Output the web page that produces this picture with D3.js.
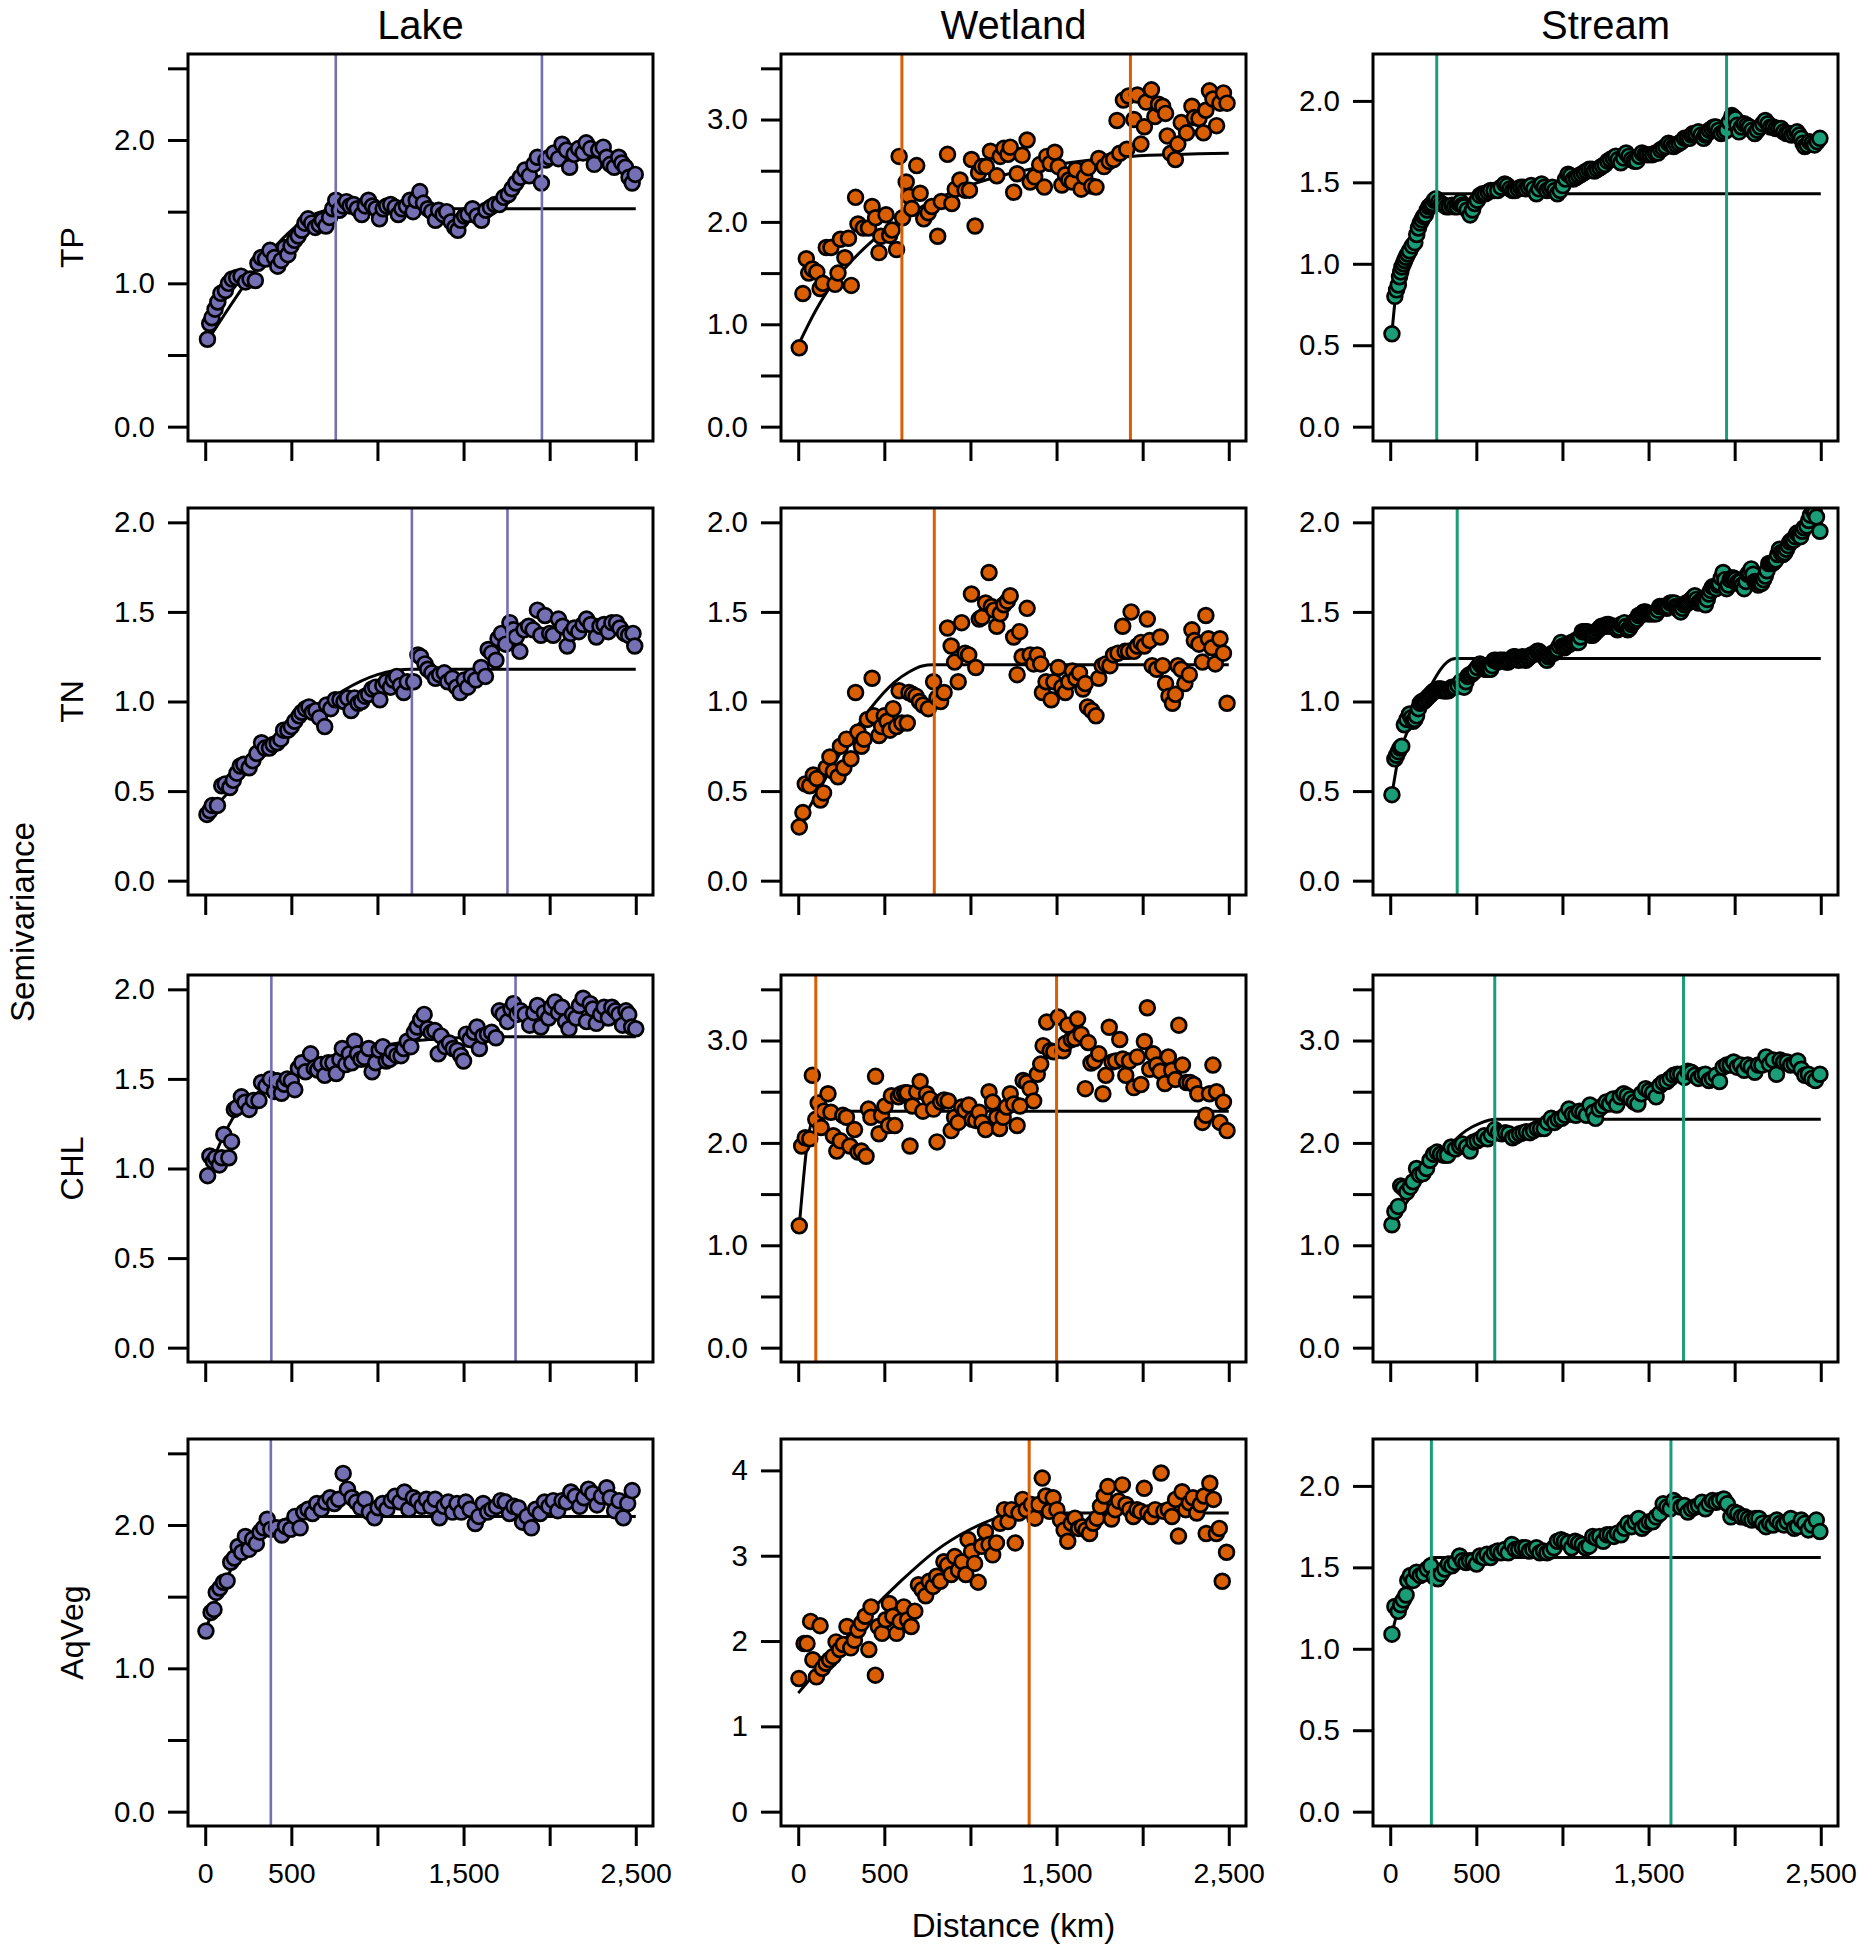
<!DOCTYPE html>
<html>
<head>
<meta charset="utf-8">
<script src="https://cdn.jsdelivr.net/npm/d3@7"></script>
<style>
  body { margin: 0; background: #fff; }
  svg text { font-family: "Liberation Sans", Arial, Helvetica, sans-serif; fill: #000; }
</style>
</head>
<body>
<svg id="chart"></svg>
<script>
// column / row names and colours
var habitats = ["Lake", "Wetland", "Stream"];
var variables = ["TP", "TN", "CHL", "AqVeg"];
var habitatColors = ["#7570b3", "#d95f02", "#1b9e77"];

// x axis (distance, km)
var xTicks = [0, 500, 1000, 1500, 2000, 2500];
var xTickLabels = ["0", "500", "", "1,500", "", "2,500"];

// y axis per panel [row][col]
var yMax      = [[2.5, 3.5, 2.2], [2.0, 2.0, 2.0], [2.0, 3.5, 3.5], [2.5, 4.2, 2.2]];
var yTickStep = [[0.5, 0.5, 0.5], [0.5, 0.5, 0.5], [0.5, 0.5, 0.5], [0.5, 1.0, 0.5]];
var yLabelStep= [[1.0, 1.0, 0.5], [0.5, 0.5, 0.5], [0.5, 1.0, 1.0], [1.0, 1.0, 0.5]];

// empirical semivariance, [distance km, semivariance]
var lakeTP = [[13,0.61],[26,0.72],[39,0.76],[57,0.82],[73,0.87],[91,0.93],[117,0.95],[135,1.0],[156,1.03],[182,1.04],[208,1.05],[234,1.01],[260,1.03],[291,1.02],[306,1.14],[325,1.18],[350,1.17],[376,1.23],[402,1.18],[421,1.12],[441,1.16],[462,1.25],[480,1.2],[498,1.26],[519,1.3],[540,1.33],[561,1.37],[579,1.42],[597,1.45],[618,1.42],[639,1.39],[662,1.41],[680,1.44],[701,1.4],[722,1.46],[740,1.52],[758,1.58],[779,1.51],[800,1.54],[820,1.57],[841,1.54],[862,1.55],[883,1.52],[909,1.48],[929,1.54],[948,1.58],[971,1.54],[992,1.52],[1012,1.45],[1033,1.52],[1054,1.54],[1077,1.55],[1103,1.53],[1121,1.48],[1142,1.52],[1168,1.54],[1189,1.58],[1207,1.5],[1225,1.58],[1246,1.64],[1267,1.56],[1293,1.52],[1314,1.5],[1337,1.44],[1355,1.51],[1381,1.48],[1402,1.5],[1428,1.43],[1449,1.39],[1467,1.37],[1485,1.44],[1506,1.47],[1526,1.48],[1552,1.52],[1578,1.47],[1604,1.44],[1630,1.51],[1656,1.53],[1682,1.55],[1708,1.55],[1734,1.6],[1760,1.62],[1781,1.66],[1804,1.7],[1830,1.74],[1856,1.79],[1882,1.75],[1908,1.83],[1929,1.88],[1952,1.7],[1978,1.86],[1999,1.88],[2025,1.91],[2051,1.87],[2072,1.97],[2098,1.93],[2116,1.81],[2142,1.9],[2168,1.94],[2194,1.91],[2212,1.98],[2238,1.94],[2259,1.83],[2285,1.93],[2311,1.95],[2331,1.88],[2352,1.83],[2375,1.81],[2401,1.88],[2419,1.84],[2440,1.81],[2461,1.74],[2479,1.7],[2497,1.76]];
var wetlandTP = [[6,0.77],[27,1.3],[47,1.64],[61,1.5],[82,1.54],[108,1.51],[127,1.35],[143,1.4],[163,1.75],[190,1.75],[214,1.39],[231,1.5],[245,1.83],[271,1.65],[292,1.84],[308,1.38],[333,2.24],[347,1.98],[378,1.94],[408,1.94],[429,2.15],[449,2.04],[469,1.7],[480,1.86],[510,2.07],[531,1.87],[545,1.92],[571,1.73],[586,2.64],[606,2.04],[627,2.39],[643,2.25],[659,2.13],[688,2.55],[708,2.28],[729,2.03],[755,2.09],[776,2.15],[810,1.86],[831,2.2],[867,2.66],[892,2.18],[912,2.32],[939,2.41],[969,2.31],[994,2.31],[1006,2.61],[1027,1.96],[1047,2.48],[1067,2.54],[1092,2.54],[1116,2.69],[1153,2.45],[1173,2.64],[1194,2.72],[1218,2.66],[1231,2.73],[1251,2.29],[1271,2.47],[1300,2.65],[1329,2.8],[1347,2.39],[1373,2.44],[1402,2.56],[1429,2.34],[1443,2.64],[1463,2.57],[1490,2.68],[1510,2.54],[1531,2.36],[1551,2.46],[1571,2.41],[1592,2.39],[1612,2.51],[1643,2.32],[1663,2.44],[1684,2.53],[1704,2.35],[1729,2.34],[1745,2.62],[1776,2.54],[1806,2.59],[1831,2.61],[1851,2.99],[1867,2.67],[1888,3.19],[1908,2.71],[1918,3.23],[1949,3.0],[1969,3.24],[1990,2.76],[2010,2.93],[2020,3.17],[2051,3.29],[2071,3.03],[2092,3.15],[2116,3.13],[2133,3.06],[2143,2.84],[2163,2.67],[2190,2.61],[2204,2.76],[2224,2.97],[2255,2.87],[2286,3.13],[2300,3.02],[2327,3.01],[2353,2.87],[2367,3.09],[2388,3.28],[2408,3.2],[2429,2.94],[2449,3.16],[2469,3.26],[2490,3.16]];
var streamTP = [[10,0.57],[27,0.8],[37,0.84],[47,0.87],[54,0.92],[61,0.95],[68,0.98],[76,1.0],[84,1.02],[92,1.04],[102,1.06],[112,1.08],[128,1.11],[143,1.13],[154,1.18],[164,1.22],[174,1.25],[184,1.27],[194,1.29],[204,1.3],[215,1.33],[225,1.35],[235,1.36],[245,1.37],[256,1.39],[266,1.4],[282,1.38],[297,1.37],[312,1.36],[327,1.35],[342,1.35],[358,1.36],[373,1.35],[389,1.35],[399,1.37],[409,1.38],[419,1.36],[429,1.35],[447,1.33],[464,1.3],[478,1.33],[491,1.37],[506,1.39],[521,1.42],[537,1.43],[552,1.43],[568,1.44],[583,1.45],[603,1.45],[624,1.45],[644,1.47],[665,1.49],[680,1.48],[695,1.46],[711,1.45],[726,1.45],[742,1.46],[757,1.47],[772,1.47],[787,1.46],[803,1.47],[818,1.48],[834,1.46],[849,1.43],[864,1.46],[879,1.49],[895,1.47],[910,1.45],[926,1.46],[941,1.47],[956,1.45],[971,1.43],[987,1.45],[1002,1.48],[1018,1.52],[1033,1.55],[1048,1.54],[1063,1.52],[1079,1.53],[1094,1.54],[1110,1.55],[1125,1.56],[1140,1.57],[1155,1.58],[1171,1.58],[1186,1.57],[1202,1.58],[1217,1.59],[1232,1.6],[1247,1.61],[1263,1.63],[1278,1.64],[1294,1.65],[1309,1.66],[1324,1.64],[1339,1.62],[1355,1.65],[1370,1.68],[1386,1.66],[1401,1.64],[1416,1.63],[1431,1.63],[1447,1.66],[1462,1.68],[1478,1.67],[1493,1.67],[1508,1.67],[1524,1.67],[1539,1.68],[1554,1.68],[1570,1.7],[1585,1.71],[1600,1.72],[1616,1.74],[1631,1.73],[1646,1.72],[1662,1.73],[1677,1.74],[1692,1.75],[1708,1.77],[1723,1.77],[1738,1.77],[1749,1.79],[1759,1.8],[1774,1.8],[1789,1.81],[1805,1.79],[1820,1.77],[1830,1.79],[1840,1.8],[1853,1.82],[1867,1.83],[1880,1.84],[1892,1.84],[1907,1.82],[1922,1.8],[1938,1.81],[1953,1.82],[1968,1.87],[1984,1.91],[1994,1.9],[2004,1.89],[2014,1.85],[2025,1.81],[2040,1.84],[2055,1.86],[2071,1.85],[2086,1.84],[2101,1.82],[2117,1.8],[2132,1.82],[2147,1.84],[2163,1.86],[2178,1.88],[2193,1.86],[2209,1.84],[2224,1.84],[2239,1.83],[2255,1.83],[2270,1.83],[2285,1.81],[2301,1.8],[2316,1.8],[2331,1.79],[2347,1.8],[2362,1.81],[2375,1.79],[2387,1.77],[2397,1.74],[2407,1.72],[2421,1.73],[2434,1.75],[2449,1.74],[2464,1.73],[2480,1.75],[2495,1.77]];

var lakeTN = [[10,0.37],[27,0.39],[41,0.42],[71,0.42],[96,0.53],[116,0.54],[143,0.52],[163,0.56],[184,0.6],[204,0.64],[224,0.65],[255,0.63],[276,0.67],[300,0.71],[327,0.77],[347,0.74],[373,0.74],[394,0.76],[418,0.77],[439,0.79],[455,0.84],[480,0.84],[500,0.86],[520,0.89],[545,0.92],[561,0.94],[582,0.96],[602,0.97],[622,0.94],[643,0.95],[663,0.91],[694,0.86],[704,0.98],[729,0.96],[755,1.01],[782,1.01],[806,1.0],[827,1.02],[847,0.95],[867,1.02],[888,0.99],[908,1.0],[929,1.03],[949,1.04],[969,1.07],[990,1.08],[1014,1.01],[1031,1.09],[1051,1.11],[1076,1.08],[1092,1.12],[1112,1.14],[1133,1.09],[1153,1.05],[1173,1.11],[1210,1.11],[1235,1.26],[1251,1.25],[1276,1.21],[1292,1.18],[1316,1.16],[1337,1.13],[1361,1.15],[1388,1.16],[1408,1.11],[1435,1.13],[1459,1.08],[1480,1.05],[1504,1.12],[1524,1.08],[1545,1.14],[1571,1.12],[1602,1.19],[1627,1.14],[1643,1.29],[1663,1.27],[1688,1.23],[1700,1.35],[1720,1.38],[1745,1.32],[1769,1.44],[1790,1.4],[1806,1.36],[1827,1.28],[1851,1.4],[1878,1.42],[1904,1.4],[1929,1.51],[1949,1.37],[1973,1.48],[2000,1.38],[2020,1.37],[2051,1.46],[2076,1.42],[2102,1.31],[2122,1.38],[2143,1.41],[2169,1.39],[2194,1.43],[2214,1.46],[2239,1.43],[2271,1.36],[2292,1.42],[2316,1.43],[2341,1.39],[2361,1.44],[2388,1.44],[2408,1.41],[2435,1.38],[2459,1.37],[2484,1.38],[2494,1.31]];
var wetlandTN = [[6,0.3],[27,0.38],[41,0.54],[67,0.53],[88,0.59],[108,0.57],[129,0.45],[147,0.49],[163,0.63],[184,0.69],[204,0.61],[231,0.58],[245,0.75],[265,0.63],[280,0.79],[306,0.68],[333,1.05],[347,0.83],[367,0.75],[382,0.79],[402,0.9],[429,1.13],[439,0.92],[469,0.81],[484,0.86],[500,0.92],[516,0.89],[533,0.84],[551,0.96],[571,0.86],[586,1.06],[602,0.88],[633,0.88],[643,1.05],[663,1.04],[684,1.03],[704,1.0],[724,0.98],[755,0.96],[786,1.11],[806,1.02],[827,1.0],[847,1.05],[867,1.41],[888,1.31],[908,1.22],[929,1.11],[949,1.44],[969,1.27],[990,1.26],[1006,1.6],[1031,1.19],[1051,1.46],[1067,1.47],[1088,1.55],[1108,1.72],[1122,1.53],[1137,1.51],[1153,1.42],[1173,1.49],[1194,1.54],[1214,1.56],[1231,1.59],[1251,1.36],[1271,1.15],[1286,1.39],[1300,1.25],[1329,1.52],[1347,1.26],[1367,1.21],[1388,1.26],[1408,1.21],[1418,1.05],[1439,1.11],[1469,1.01],[1484,1.11],[1510,1.19],[1531,1.08],[1551,1.05],[1571,1.11],[1592,1.17],[1612,1.13],[1633,1.16],[1653,1.07],[1667,1.1],[1680,0.97],[1704,0.95],[1729,0.92],[1745,1.13],[1765,1.2],[1786,1.21],[1810,1.2],[1831,1.26],[1857,1.27],[1884,1.42],[1898,1.28],[1918,1.28],[1933,1.5],[1949,1.28],[1969,1.31],[1990,1.33],[2010,1.31],[2027,1.46],[2041,1.34],[2055,1.2],[2082,1.18],[2102,1.36],[2116,1.2],[2133,1.1],[2153,1.03],[2173,0.99],[2190,1.04],[2204,1.2],[2224,1.18],[2245,1.1],[2271,1.15],[2286,1.4],[2300,1.34],[2327,1.32],[2347,1.22],[2367,1.48],[2382,1.35],[2402,1.3],[2422,1.21],[2449,1.35],[2469,1.27],[2490,0.99]];
var streamTN = [[10,0.48],[27,0.68],[37,0.7],[47,0.72],[57,0.74],[67,0.75],[82,0.87],[97,0.9],[112,0.93],[123,0.91],[133,0.89],[143,0.9],[153,0.92],[164,0.96],[174,0.99],[184,1.0],[194,1.0],[204,1.01],[215,1.02],[225,1.03],[235,1.04],[245,1.05],[256,1.06],[266,1.06],[276,1.07],[287,1.07],[297,1.07],[307,1.06],[317,1.06],[327,1.06],[337,1.06],[348,1.07],[358,1.08],[368,1.08],[378,1.08],[394,1.09],[409,1.11],[419,1.09],[429,1.08],[440,1.11],[450,1.14],[460,1.15],[470,1.15],[481,1.16],[491,1.17],[506,1.19],[521,1.21],[532,1.2],[542,1.19],[552,1.18],[562,1.18],[572,1.18],[583,1.18],[593,1.2],[603,1.23],[614,1.23],[624,1.22],[634,1.23],[644,1.23],[654,1.23],[665,1.23],[675,1.22],[685,1.22],[695,1.23],[706,1.24],[716,1.25],[726,1.25],[736,1.24],[746,1.23],[757,1.24],[767,1.25],[777,1.24],[787,1.23],[798,1.24],[808,1.25],[818,1.26],[828,1.26],[840,1.27],[853,1.28],[863,1.28],[873,1.27],[884,1.26],[894,1.25],[902,1.24],[910,1.23],[920,1.25],[930,1.26],[941,1.27],[951,1.27],[961,1.28],[971,1.29],[982,1.31],[992,1.33],[1002,1.31],[1012,1.3],[1022,1.31],[1033,1.32],[1043,1.32],[1053,1.33],[1064,1.33],[1074,1.34],[1084,1.33],[1094,1.33],[1105,1.36],[1115,1.39],[1125,1.39],[1135,1.39],[1145,1.39],[1155,1.38],[1166,1.37],[1176,1.37],[1186,1.38],[1196,1.39],[1207,1.4],[1217,1.41],[1227,1.42],[1237,1.42],[1248,1.42],[1258,1.43],[1268,1.43],[1278,1.42],[1289,1.42],[1299,1.42],[1309,1.41],[1319,1.4],[1330,1.41],[1340,1.43],[1350,1.43],[1360,1.44],[1370,1.42],[1380,1.4],[1391,1.41],[1401,1.43],[1411,1.44],[1421,1.45],[1432,1.46],[1442,1.48],[1452,1.48],[1462,1.49],[1472,1.5],[1483,1.5],[1493,1.49],[1503,1.49],[1514,1.49],[1524,1.49],[1534,1.49],[1544,1.49],[1555,1.51],[1565,1.53],[1575,1.53],[1585,1.53],[1596,1.53],[1606,1.52],[1616,1.53],[1626,1.55],[1638,1.55],[1650,1.55],[1658,1.53],[1667,1.52],[1677,1.51],[1687,1.5],[1697,1.52],[1708,1.54],[1718,1.55],[1728,1.55],[1738,1.56],[1749,1.57],[1759,1.58],[1769,1.59],[1779,1.57],[1790,1.55],[1800,1.56],[1810,1.56],[1820,1.55],[1830,1.54],[1841,1.57],[1851,1.6],[1861,1.62],[1871,1.64],[1882,1.64],[1892,1.63],[1902,1.65],[1912,1.66],[1922,1.69],[1933,1.72],[1943,1.68],[1953,1.63],[1963,1.65],[1973,1.68],[1984,1.69],[1994,1.69],[2004,1.68],[2014,1.66],[2024,1.67],[2035,1.67],[2045,1.65],[2055,1.63],[2066,1.67],[2076,1.71],[2086,1.72],[2096,1.74],[2107,1.71],[2117,1.67],[2127,1.66],[2137,1.65],[2147,1.66],[2157,1.66],[2168,1.68],[2178,1.7],[2188,1.73],[2198,1.77],[2209,1.77],[2219,1.77],[2229,1.78],[2239,1.79],[2250,1.82],[2260,1.85],[2270,1.83],[2280,1.82],[2291,1.83],[2301,1.85],[2311,1.87],[2321,1.89],[2332,1.9],[2342,1.9],[2352,1.92],[2362,1.94],[2373,1.93],[2383,1.92],[2393,1.95],[2403,1.97],[2419,1.98],[2430,2.01],[2440,2.04],[2454,2.07],[2465,2.05],[2475,2.03],[2495,1.95]];

var lakeCHL = [[14,0.96],[27,1.07],[47,1.04],[61,1.06],[82,1.02],[96,1.06],[108,1.19],[137,1.06],[153,1.15],[169,1.33],[184,1.34],[210,1.4],[231,1.37],[255,1.33],[280,1.38],[312,1.38],[327,1.48],[353,1.46],[378,1.5],[402,1.43],[418,1.49],[443,1.42],[459,1.47],[476,1.5],[500,1.49],[520,1.44],[541,1.56],[561,1.59],[582,1.54],[612,1.64],[633,1.56],[653,1.55],[673,1.58],[694,1.52],[714,1.59],[741,1.59],[761,1.53],[782,1.61],[796,1.67],[816,1.58],[837,1.64],[851,1.59],[867,1.71],[884,1.64],[904,1.61],[925,1.62],[949,1.67],[969,1.54],[990,1.59],[1010,1.66],[1031,1.68],[1051,1.6],[1071,1.61],[1088,1.65],[1112,1.63],[1137,1.63],[1153,1.67],[1173,1.71],[1194,1.68],[1214,1.76],[1231,1.79],[1251,1.83],[1271,1.86],[1292,1.78],[1312,1.76],[1333,1.77],[1353,1.64],[1369,1.74],[1394,1.68],[1418,1.7],[1439,1.67],[1463,1.66],[1484,1.63],[1500,1.6],[1516,1.75],[1537,1.72],[1561,1.76],[1578,1.79],[1592,1.67],[1612,1.74],[1639,1.75],[1663,1.76],[1688,1.73],[1708,1.88],[1729,1.86],[1755,1.82],[1776,1.89],[1790,1.92],[1810,1.86],[1831,1.88],[1857,1.86],[1884,1.8],[1908,1.87],[1929,1.91],[1949,1.79],[1969,1.87],[1994,1.84],[2010,1.9],[2031,1.93],[2051,1.87],[2071,1.9],[2092,1.82],[2112,1.78],[2133,1.86],[2153,1.84],[2173,1.91],[2194,1.95],[2214,1.82],[2235,1.92],[2251,1.89],[2271,1.81],[2296,1.86],[2316,1.9],[2341,1.84],[2361,1.9],[2382,1.88],[2402,1.86],[2423,1.8],[2443,1.88],[2459,1.86],[2476,1.79],[2500,1.78]];
var wetlandCHL = [[6,1.19],[20,1.97],[41,2.05],[67,2.04],[82,2.66],[102,2.23],[116,2.39],[133,2.15],[149,2.31],[173,2.48],[190,2.3],[204,2.07],[224,1.92],[245,2.02],[259,2.27],[280,2.25],[300,1.97],[327,2.13],[347,1.91],[367,1.92],[394,1.87],[408,2.33],[422,2.25],[449,2.65],[469,2.09],[484,2.27],[504,2.36],[525,2.17],[541,2.46],[561,2.17],[582,2.45],[598,2.48],[618,2.49],[633,2.49],[649,1.97],[663,2.36],[688,2.5],[708,2.6],[724,2.31],[745,2.48],[765,2.43],[786,2.33],[806,2.01],[827,2.4],[847,2.42],[871,2.41],[888,2.12],[908,2.25],[929,2.2],[949,2.35],[969,2.32],[990,2.37],[1010,2.23],[1031,2.22],[1051,2.3],[1067,2.2],[1088,2.13],[1108,2.5],[1129,2.4],[1153,2.25],[1169,2.14],[1190,2.25],[1210,2.35],[1231,2.48],[1251,2.38],[1271,2.17],[1288,2.36],[1306,2.61],[1327,2.59],[1347,2.53],[1367,2.41],[1388,2.67],[1408,2.77],[1422,2.95],[1443,3.18],[1463,2.9],[1484,2.89],[1510,3.23],[1537,2.9],[1551,2.97],[1565,3.15],[1586,3.01],[1606,3.02],[1622,3.21],[1643,3.06],[1667,2.53],[1684,2.98],[1700,2.78],[1720,2.8],[1745,2.87],[1769,2.48],[1786,2.66],[1806,3.13],[1822,2.79],[1843,2.8],[1867,3.01],[1884,2.82],[1902,2.66],[1924,2.8],[1949,2.54],[1969,2.84],[1990,2.57],[2010,2.99],[2027,3.32],[2041,2.72],[2061,2.87],[2082,2.76],[2102,2.7],[2129,2.58],[2149,2.84],[2169,2.71],[2190,2.62],[2210,3.15],[2231,2.76],[2255,2.59],[2276,2.59],[2296,2.57],[2320,2.48],[2347,2.2],[2367,2.27],[2388,2.48],[2408,2.76],[2429,2.5],[2449,2.2],[2469,2.4],[2490,2.12]];
var streamCHL = [[10,1.2],[27,1.33],[47,1.38],[61,1.58],[76,1.56],[96,1.52],[117,1.57],[133,1.62],[153,1.75],[170,1.69],[190,1.7],[211,1.75],[231,1.83],[252,1.89],[272,1.91],[292,1.89],[313,1.88],[333,1.88],[354,1.96],[378,1.94],[403,1.97],[419,1.99],[444,1.96],[464,1.92],[485,2.01],[505,2.02],[526,2.04],[546,2.07],[566,2.04],[587,2.08],[607,2.13],[628,2.1],[648,2.09],[669,2.1],[689,2.09],[710,2.05],[730,2.07],[751,2.09],[771,2.1],[791,2.11],[812,2.1],[832,2.12],[853,2.14],[873,2.14],[894,2.14],[914,2.2],[935,2.24],[955,2.2],[975,2.23],[996,2.24],[1016,2.27],[1037,2.33],[1057,2.28],[1078,2.27],[1098,2.31],[1119,2.3],[1139,2.27],[1160,2.37],[1180,2.3],[1192,2.24],[1213,2.33],[1233,2.36],[1254,2.4],[1274,2.38],[1294,2.43],[1315,2.37],[1335,2.45],[1356,2.48],[1376,2.46],[1397,2.43],[1417,2.4],[1438,2.38],[1458,2.48],[1483,2.53],[1503,2.51],[1524,2.49],[1544,2.45],[1565,2.56],[1585,2.59],[1606,2.6],[1626,2.63],[1646,2.66],[1667,2.67],[1687,2.67],[1708,2.64],[1728,2.7],[1748,2.69],[1769,2.66],[1789,2.63],[1810,2.66],[1830,2.67],[1851,2.61],[1871,2.63],[1892,2.66],[1912,2.6],[1933,2.74],[1953,2.76],[1974,2.76],[1994,2.79],[2014,2.74],[2035,2.76],[2055,2.71],[2076,2.76],[2096,2.74],[2117,2.69],[2137,2.76],[2158,2.76],[2182,2.84],[2202,2.77],[2223,2.81],[2243,2.67],[2264,2.81],[2284,2.79],[2305,2.79],[2325,2.76],[2346,2.77],[2366,2.8],[2387,2.72],[2407,2.66],[2428,2.67],[2448,2.63],[2469,2.61],[2495,2.67]];

var lakeAqVeg = [[4,1.26],[34,1.39],[51,1.41],[64,1.53],[85,1.56],[106,1.6],[127,1.61],[148,1.74],[169,1.77],[191,1.85],[212,1.81],[233,1.92],[254,1.83],[275,1.9],[297,1.87],[318,1.95],[339,1.98],[360,2.04],[381,1.97],[415,1.98],[445,1.93],[466,1.99],[496,1.97],[521,2.06],[551,1.98],[572,2.09],[597,2.11],[623,2.08],[648,2.15],[674,2.11],[699,2.16],[725,2.19],[750,2.15],[775,2.18],[801,2.36],[826,2.25],[852,2.19],[877,2.16],[903,2.12],[928,2.18],[953,2.09],[983,2.05],[1004,2.12],[1030,2.15],[1055,2.11],[1081,2.17],[1102,2.2],[1131,2.16],[1157,2.23],[1182,2.11],[1208,2.19],[1233,2.17],[1258,2.13],[1284,2.18],[1309,2.13],[1335,2.18],[1360,2.05],[1386,2.13],[1411,2.16],[1436,2.09],[1462,2.15],[1487,2.09],[1513,2.16],[1538,2.11],[1568,2.01],[1589,2.06],[1614,2.15],[1640,2.09],[1665,2.11],[1691,2.13],[1716,2.17],[1742,2.16],[1767,2.08],[1792,2.13],[1818,2.12],[1843,2.02],[1869,2.06],[1894,1.98],[1919,2.11],[1945,2.08],[1970,2.16],[1996,2.13],[2021,2.17],[2047,2.1],[2072,2.17],[2097,2.16],[2123,2.23],[2148,2.2],[2174,2.13],[2199,2.19],[2225,2.25],[2250,2.22],[2275,2.14],[2301,2.2],[2331,2.26],[2352,2.19],[2377,2.1],[2403,2.17],[2428,2.05],[2453,2.15],[2479,2.24]];
var wetlandAqVeg = [[4,1.56],[34,1.97],[51,1.97],[72,2.23],[85,1.78],[106,1.58],[127,2.18],[140,1.68],[161,1.74],[182,1.78],[203,1.82],[220,1.99],[241,1.9],[262,1.96],[283,2.17],[305,1.92],[326,2.01],[347,2.13],[368,2.21],[389,2.29],[410,1.9],[423,2.4],[448,1.6],[465,2.17],[487,2.09],[508,2.25],[529,2.44],[550,2.29],[571,2.09],[592,2.23],[613,2.4],[635,2.25],[656,2.17],[677,2.35],[698,2.66],[719,2.6],[740,2.53],[761,2.7],[783,2.64],[804,2.76],[825,2.7],[846,2.93],[867,2.89],[888,2.78],[909,2.99],[931,2.83],[952,2.93],[973,2.78],[986,3.19],[1007,3.05],[1024,2.91],[1045,2.69],[1066,3.11],[1087,3.28],[1108,3.13],[1129,3.01],[1151,3.15],[1172,3.38],[1197,3.54],[1218,3.4],[1239,3.54],[1260,3.15],[1282,3.5],[1303,3.66],[1324,3.54],[1354,3.6],[1375,3.44],[1396,3.6],[1417,3.91],[1438,3.7],[1459,3.52],[1480,3.68],[1502,3.54],[1523,3.42],[1544,3.3],[1565,3.17],[1586,3.38],[1607,3.44],[1628,3.32],[1650,3.34],[1671,3.3],[1692,3.26],[1713,3.38],[1734,3.44],[1755,3.58],[1777,3.7],[1798,3.81],[1819,3.43],[1840,3.54],[1861,3.64],[1882,3.83],[1903,3.6],[1925,3.54],[1946,3.46],[1967,3.54],[1988,3.52],[2009,3.79],[2030,3.5],[2051,3.46],[2073,3.54],[2107,3.97],[2123,3.52],[2149,3.54],[2170,3.46],[2191,3.66],[2208,3.23],[2229,3.75],[2250,3.54],[2271,3.62],[2292,3.68],[2314,3.5],[2335,3.6],[2356,3.7],[2369,3.26],[2390,3.85],[2411,3.66],[2428,3.26],[2445,3.32],[2462,2.7],[2487,3.04]];
var streamAqVeg = [[10,1.09],[27,1.26],[47,1.23],[61,1.27],[76,1.3],[92,1.33],[102,1.42],[117,1.45],[133,1.42],[153,1.47],[174,1.45],[194,1.46],[215,1.49],[235,1.51],[256,1.44],[276,1.43],[297,1.46],[317,1.49],[337,1.52],[358,1.51],[378,1.53],[403,1.57],[419,1.54],[440,1.53],[460,1.54],[481,1.54],[501,1.52],[521,1.57],[542,1.56],[562,1.58],[583,1.56],[603,1.59],[624,1.6],[644,1.59],[665,1.61],[685,1.59],[706,1.64],[726,1.61],[746,1.61],[767,1.62],[787,1.62],[808,1.6],[828,1.61],[849,1.62],[869,1.59],[890,1.6],[910,1.59],[930,1.6],[951,1.62],[971,1.66],[992,1.67],[1012,1.66],[1033,1.65],[1053,1.62],[1074,1.66],[1094,1.65],[1115,1.64],[1135,1.62],[1155,1.63],[1176,1.69],[1196,1.68],[1217,1.69],[1237,1.66],[1258,1.7],[1278,1.7],[1299,1.69],[1319,1.71],[1340,1.7],[1360,1.74],[1380,1.77],[1401,1.75],[1421,1.78],[1442,1.8],[1462,1.74],[1483,1.76],[1503,1.78],[1524,1.78],[1544,1.81],[1565,1.83],[1585,1.89],[1606,1.87],[1626,1.86],[1646,1.91],[1667,1.89],[1687,1.87],[1708,1.88],[1728,1.84],[1749,1.86],[1769,1.87],[1790,1.88],[1810,1.9],[1830,1.86],[1851,1.89],[1871,1.91],[1892,1.9],[1912,1.91],[1937,1.92],[1957,1.89],[1978,1.81],[1998,1.84],[2018,1.83],[2039,1.81],[2059,1.81],[2080,1.8],[2100,1.79],[2121,1.8],[2141,1.8],[2162,1.77],[2182,1.75],[2203,1.77],[2223,1.76],[2244,1.79],[2264,1.77],[2285,1.76],[2305,1.78],[2326,1.8],[2346,1.74],[2366,1.75],[2387,1.79],[2407,1.77],[2428,1.73],[2448,1.76],[2474,1.79],[2495,1.72]];

// fitted variogram model
var lakeTPFit = [[13,0.6],[100,0.76],[200,0.94],[300,1.11],[400,1.25],[500,1.37],[600,1.46],[700,1.51],[760,1.52],[2500,1.52]];
var wetlandTPFit = [[10,0.83],[100,1.13],[200,1.4],[300,1.6],[440,1.83],[600,2.03],[800,2.22],[1000,2.36],[1200,2.46],[1500,2.56],[1929,2.64],[2500,2.67]];
var streamTPFit = [[10,0.575],[28,0.77],[50,0.9],[80,1.03],[120,1.16],[170,1.28],[220,1.37],[270,1.43],[2500,1.43]];
var lakeTNFit = [[10,0.36],[200,0.56],[400,0.75],[600,0.92],[800,1.06],[1000,1.15],[1200,1.18],[2500,1.18]];
var wetlandTNFit = [[6,0.31],[100,0.47],[200,0.64],[300,0.8],[418,0.96],[561,1.11],[643,1.165],[720,1.198],[780,1.205],[2500,1.205]];
var streamTNFit = [[10,0.48],[40,0.65],[112,0.86],[160,0.96],[215,1.05],[260,1.13],[297,1.185],[330,1.22],[380,1.24],[2500,1.24]];
var lakeCHLFit = [[14,0.97],[100,1.17],[173,1.3],[300,1.42],[450,1.51],[600,1.57],[800,1.63],[1000,1.68],[1300,1.72],[1680,1.735],[2500,1.735]];
var wetlandCHLFit = [[6,1.19],[25,1.55],[51,1.98],[80,2.22],[110,2.3],[150,2.31],[2500,2.31]];
var streamCHLFit = [[10,1.2],[100,1.43],[200,1.67],[300,1.89],[440,2.12],[520,2.19],[610,2.23],[2500,2.23]];
var lakeAqVegFit = [[4,1.27],[50,1.43],[100,1.57],[200,1.79],[300,1.93],[400,2.01],[500,2.05],[640,2.06],[2500,2.06]];
var wetlandAqVegFit = [[0,1.39],[200,1.86],[400,2.31],[600,2.71],[800,3.06],[1000,3.31],[1200,3.47],[1340,3.5],[2500,3.5]];
var streamAqVegFit = [[10,1.09],[40,1.22],[80,1.34],[120,1.43],[170,1.5],[210,1.54],[240,1.56],[2500,1.56]];

// break distances (km) marked by vertical lines
var lakeTPBreaks = [758, 1955], wetlandTPBreaks = [602, 1929], streamTPBreaks = [270, 1953];
var lakeTNBreaks = [1200, 1755], wetlandTNBreaks = [790], streamTNBreaks = [389];
var lakeCHLBreaks = [384, 1802], wetlandCHLBreaks = [102, 1500], streamCHLBreaks = [607, 1703];
var lakeAqVegBreaks = [381], wetlandAqVegBreaks = [1341], streamAqVegBreaks = [239, 1630];

var panelPoints = [[lakeTP, wetlandTP, streamTP], [lakeTN, wetlandTN, streamTN], [lakeCHL, wetlandCHL, streamCHL], [lakeAqVeg, wetlandAqVeg, streamAqVeg]];
var panelFits = [[lakeTPFit, wetlandTPFit, streamTPFit], [lakeTNFit, wetlandTNFit, streamTNFit], [lakeCHLFit, wetlandCHLFit, streamCHLFit], [lakeAqVegFit, wetlandAqVegFit, streamAqVegFit]];
var panelBreaks = [[lakeTPBreaks, wetlandTPBreaks, streamTPBreaks], [lakeTNBreaks, wetlandTNBreaks, streamTNBreaks], [lakeCHLBreaks, wetlandCHLBreaks, streamCHLBreaks], [lakeAqVegBreaks, wetlandAqVegBreaks, streamAqVegBreaks]];

// layout
var colLeft = [188, 781, 1373], rowTop = [54, 508, 975, 1439];
var boxW = 465, boxH = 387;

var svg = d3.select("#chart")
    .attr("width", 1860)
    .attr("height", 1950);

svg.append("rect").attr("width", 1860).attr("height", 1950).attr("fill", "#fff");

var defs = svg.append("defs");

variables.forEach(function(v, r) {
  habitats.forEach(function(h, c) {
    var g = svg.append("g")
        .attr("transform", "translate(" + colLeft[c] + "," + rowTop[r] + ")");

    var x = d3.scaleLinear().domain([-100, 2600]).range([0, boxW]);
    var ymax = yMax[r][c];
    var y = d3.scaleLinear().domain([-0.04 * ymax, 1.04 * ymax]).range([boxH, 0]);

    var clipId = "clip-" + r + "-" + c;
    defs.append("clipPath").attr("id", clipId)
      .append("rect").attr("width", boxW).attr("height", boxH);

    var inner = g.append("g").attr("clip-path", "url(#" + clipId + ")");

    // fitted model
    var line = d3.line()
        .x(function(d) { return x(d[0]); })
        .y(function(d) { return y(d[1]); })
        .curve(d3.curveMonotoneX);
    inner.append("path")
        .datum(panelFits[r][c])
        .attr("fill", "none")
        .attr("stroke", "#000")
        .attr("stroke-width", 3)
        .attr("d", line);

    // empirical points
    inner.selectAll("circle")
        .data(panelPoints[r][c])
        .enter().append("circle")
        .attr("cx", function(d) { return x(d[0]); })
        .attr("cy", function(d) { return y(d[1]); })
        .attr("r", 7.4)
        .attr("fill", habitatColors[c])
        .attr("stroke", "#000")
        .attr("stroke-width", 2.7);

    // break lines
    inner.selectAll("line.brk")
        .data(panelBreaks[r][c])
        .enter().append("line")
        .attr("class", "brk")
        .attr("x1", function(d) { return x(d); })
        .attr("x2", function(d) { return x(d); })
        .attr("y1", 0)
        .attr("y2", boxH)
        .attr("stroke", habitatColors[c])
        .attr("stroke-width", c === 0 ? 2.6 : 3);

    // box
    g.append("rect")
        .attr("width", boxW)
        .attr("height", boxH)
        .attr("fill", "none")
        .attr("stroke", "#000")
        .attr("stroke-width", 3);

    // y axis
    var step = yTickStep[r][c], lstep = yLabelStep[r][c];
    var yTicks = d3.range(0, ymax + 1e-9, step);
    var fmt = step >= 1 ? d3.format("d") : d3.format(".1f");
    var yAxis = g.append("g")
        .call(d3.axisLeft(y)
          .tickValues(yTicks)
          .tickSize(20)
          .tickPadding(13)
          .tickFormat(function(d) {
            var k = d / lstep;
            return Math.abs(k - Math.round(k)) < 1e-6 ? fmt(d) : "";
          }));
    yAxis.select(".domain").remove();
    yAxis.selectAll("line").attr("stroke-width", 3);
    yAxis.selectAll("text").attr("font-size", 29.5).attr("font-family", null);

    // x axis
    var xAxis = g.append("g")
        .attr("transform", "translate(0," + boxH + ")")
        .call(d3.axisBottom(x)
          .tickValues(xTicks)
          .tickSize(20)
          .tickPadding(17)
          .tickFormat(function(d, i) { return r === variables.length - 1 ? xTickLabels[i] : ""; }));
    xAxis.select(".domain").remove();
    xAxis.selectAll("line").attr("stroke-width", 3);
    xAxis.selectAll("text").attr("font-size", 28.5).attr("font-family", null);

    if (r === 0) {
      svg.append("text")
          .attr("x", colLeft[c] + boxW / 2)
          .attr("y", 39)
          .attr("text-anchor", "middle")
          .attr("font-size", 40)
          .text(h);
    }
    if (c === 0) {
      svg.append("text")
          .attr("transform", "translate(72," + (rowTop[r] + boxH / 2) + ") rotate(-90)")
          .attr("text-anchor", "middle")
          .attr("dominant-baseline", "central")
          .attr("font-size", 32)
          .text(v);
    }
  });
});

svg.append("text")
    .attr("transform", "translate(22,922) rotate(-90)")
    .attr("text-anchor", "middle")
    .attr("dominant-baseline", "central")
    .attr("font-size", 33)
    .text("Semivariance");

svg.append("text")
    .attr("x", colLeft[1] + boxW / 2)
    .attr("y", 1937)
    .attr("text-anchor", "middle")
    .attr("font-size", 33)
    .text("Distance (km)");
</script>
</body>
</html>
